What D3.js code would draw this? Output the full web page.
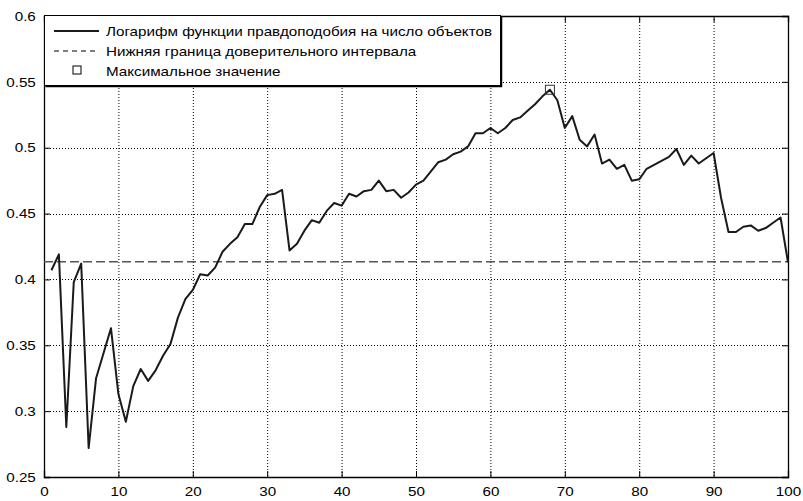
<!DOCTYPE html>
<html>
<head>
<meta charset="utf-8">
<script src="https://cdn.jsdelivr.net/npm/d3@7"></script>
<style>
  body { margin: 0; background: #fff; }
  text { font-family: "Liberation Sans", Arial, sans-serif; }
</style>
</head>
<body>
<div id="chart"></div>
<script>
// log-likelihood per object, x = 1..100
var llValues = [
    0.407, 0.419, 0.288, 0.398, 0.412, 0.272, 0.325, 0.344, 0.363, 0.313,
    0.292, 0.319, 0.332, 0.323, 0.331, 0.342, 0.351, 0.371, 0.385, 0.392,
    0.404, 0.403, 0.409, 0.421, 0.427, 0.432, 0.442, 0.442, 0.455, 0.464,
    0.465, 0.468, 0.422, 0.427, 0.437, 0.445, 0.443, 0.452, 0.458, 0.456,
    0.465, 0.463, 0.467, 0.468, 0.475, 0.467, 0.468, 0.462, 0.466, 0.472,
    0.475, 0.482, 0.489, 0.491, 0.495, 0.497, 0.501, 0.511, 0.511, 0.515,
    0.511, 0.515, 0.521, 0.523, 0.528, 0.533, 0.539, 0.544, 0.536, 0.515,
    0.524, 0.506, 0.501, 0.510, 0.488, 0.491, 0.484, 0.487, 0.475, 0.476,
    0.484, 0.487, 0.490, 0.493, 0.499, 0.487, 0.494, 0.488, 0.492, 0.496,
    0.462, 0.436, 0.436, 0.440, 0.441, 0.437, 0.439, 0.443, 0.447, 0.413
];
var lowerBound = 0.4135;
var maxPoint = { x: 68, value: 0.544 };

var xTicks = [0, 10, 20, 30, 40, 50, 60, 70, 80, 90, 100];
var yTicks = [0.25, 0.3, 0.35, 0.4, 0.45, 0.5, 0.55, 0.6];

var legendLabels = [
    "Логарифм функции правдоподобия на число объектов",
    "Нижняя граница доверительного интервала",
    "Максимальное значение"
];

var margin = { top: 16, right: 15, bottom: 24, left: 44 },
    width = 803 - margin.left - margin.right,
    height = 501 - margin.top - margin.bottom;

// text in the original is a bit wider than it is tall
var stretch = 1.17;

var svg = d3.select("#chart")
    .append("svg")
    .attr("width", 803)
    .attr("height", 501)
    .append("g")
    .attr("transform", "translate(" + margin.left + "," + margin.top + ")");

var x = d3.scaleLinear().domain([0, 100]).range([0, width]);
var y = d3.scaleLinear().domain([0.25, 0.6]).range([height, 0]);

// dotted grid
svg.append("g")
    .selectAll("line")
    .data(xTicks.slice(1, -1))
    .enter().append("line")
    .attr("x1", function (d) { return x(d) + 0.5; })
    .attr("x2", function (d) { return x(d) + 0.5; })
    .attr("y1", 0)
    .attr("y2", height)
    .attr("stroke", "#000")
    .attr("stroke-width", 1)
    .attr("stroke-dasharray", "1,2");

svg.append("g")
    .selectAll("line")
    .data(yTicks.slice(1, -1))
    .enter().append("line")
    .attr("x1", 0)
    .attr("x2", width)
    .attr("y1", function (d) { return Math.round(y(d)) + 0.5; })
    .attr("y2", function (d) { return Math.round(y(d)) + 0.5; })
    .attr("stroke", "#000")
    .attr("stroke-width", 1)
    .attr("stroke-dasharray", "1,2");

// axes (ticks inside)
var xAxis = svg.append("g")
    .attr("transform", "translate(0," + height + ")")
    .call(d3.axisBottom(x).tickValues(xTicks).tickSize(-6).tickPadding(10).tickFormat(d3.format("d")));
var xAxisTop = svg.append("g")
    .call(d3.axisTop(x).tickValues(xTicks).tickSize(-6).tickFormat(""));
var yAxis = svg.append("g")
    .call(d3.axisLeft(y).tickValues(yTicks).tickSize(-6).tickPadding(7).tickFormat(function (d) { return String(d); }));
var yAxisRight = svg.append("g")
    .attr("transform", "translate(" + width + ",0)")
    .call(d3.axisRight(y).tickValues(yTicks).tickSize(-6).tickFormat(""));

[xAxis, xAxisTop, yAxis, yAxisRight].forEach(function (g) {
    g.select(".domain").attr("stroke", "#000").attr("stroke-width", 1.3);
    g.selectAll(".tick line").attr("stroke", "#000");
    g.selectAll(".tick text")
        .attr("fill", "#000")
        .attr("transform", "scale(" + stretch + ",1)")
        .style("font-size", "13px");
});

// lower bound of confidence interval
svg.append("line")
    .attr("x1", 0)
    .attr("x2", width)
    .attr("y1", y(lowerBound))
    .attr("y2", y(lowerBound))
    .attr("stroke", "#555")
    .attr("stroke-width", 1.5)
    .attr("stroke-dasharray", "9,4");

// main line
var line = d3.line()
    .x(function (d, i) { return x(i + 1); })
    .y(function (d) { return y(d); });

svg.append("path")
    .datum(llValues)
    .attr("fill", "none")
    .attr("stroke", "#1a1a1a")
    .attr("stroke-width", 2)
    .attr("stroke-linejoin", "round")
    .attr("d", line);

// max marker
svg.append("rect")
    .attr("x", x(maxPoint.x) - 4.5)
    .attr("y", y(maxPoint.value) - 4.5)
    .attr("width", 9)
    .attr("height", 9)
    .attr("fill", "none")
    .attr("stroke", "#333")
    .attr("stroke-width", 1);

// legend
var legend = svg.append("g").attr("transform", "translate(0,-1)");
legend.append("rect")
    .attr("x", 0.5)
    .attr("y", 0.5)
    .attr("width", 456)
    .attr("height", 70)
    .attr("fill", "#fff")
    .attr("stroke", "#000")
    .attr("stroke-width", 1);
legend.append("path")
    .attr("d", "M457.5,1.5V71.5H1.5")
    .attr("fill", "none")
    .attr("stroke", "#000")
    .attr("stroke-width", 1.5);

var rowY = [16, 36, 56];
legend.append("line")
    .attr("x1", 10).attr("x2", 55)
    .attr("y1", rowY[0]).attr("y2", rowY[0])
    .attr("stroke", "#1a1a1a").attr("stroke-width", 2);
legend.append("line")
    .attr("x1", 10).attr("x2", 55)
    .attr("y1", rowY[1]).attr("y2", rowY[1])
    .attr("stroke", "#000").attr("stroke-width", 1)
    .attr("stroke-dasharray", "5,4");
legend.append("rect")
    .attr("x", 29).attr("y", rowY[2] - 5)
    .attr("width", 8).attr("height", 8)
    .attr("fill", "none").attr("stroke", "#000").attr("stroke-width", 1);

legend.selectAll(".lbl")
    .data(legendLabels)
    .enter().append("text")
    .attr("class", "lbl")
    .attr("transform", function (d, i) {
        return "translate(62," + (rowY[i] + 4.5) + ") scale(" + stretch + ",1)";
    })
    .attr("fill", "#000")
    .style("font-size", "13px")
    .text(function (d) { return d; });
</script>
</body>
</html>
